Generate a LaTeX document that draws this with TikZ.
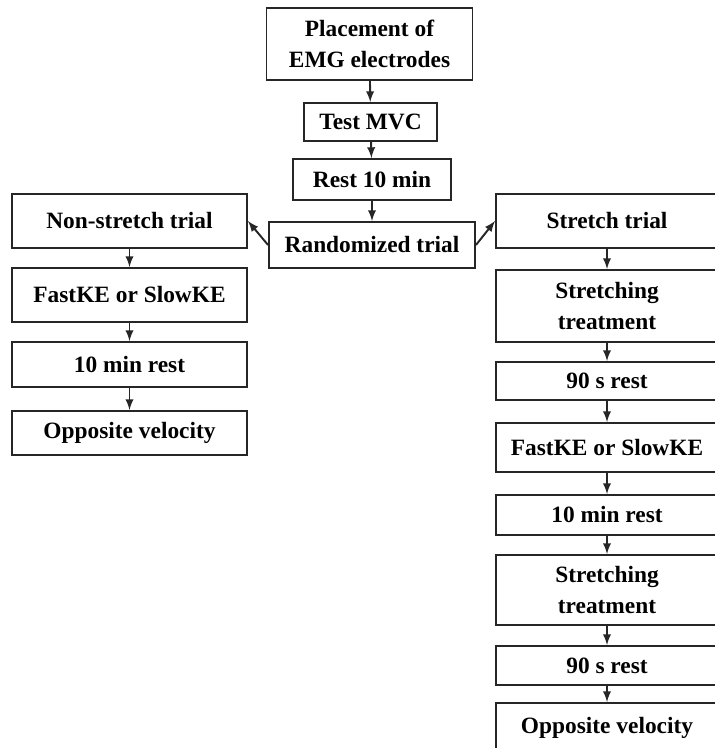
\documentclass[tikz,border=0pt]{standalone}
\usepackage{fontspec}
\setmainfont{Liberation Serif}

\begin{document}
\begin{tikzpicture}[
  box/.style={draw=black!85, line width=1.1pt, align=center, inner sep=0pt,
    font=\bfseries\fontsize{13.3}{17.5}\selectfont},
  lbox/.style={box, minimum width=4.70cm},
  rbox/.style={box, minimum width=4.44cm},
  flow/.style={-latex, line width=1.1pt, draw=black!85}]
\useasboundingbox (0,0) rectangle (14.28,-14.96);
\node[box, minimum width=4.12cm, minimum height=1.44cm] (place) at (7.39,-0.88) {Placement of\\EMG electrodes};
\node[box, minimum width=2.66cm, minimum height=0.76cm] (mvc) at (7.41,-2.44) {Test MVC};
\node[box, minimum width=3.16cm, minimum height=0.82cm] (rest) at (7.44,-3.59) {Rest 10 min};
\node[box, minimum width=4.12cm, minimum height=0.92cm] (rand) at (7.44,-4.90) {Randomized trial};
\node[lbox, minimum height=1.08cm] (nons) at (2.59,-4.42) {Non-stretch trial};
\node[lbox, minimum height=1.08cm] (fastA) at (2.59,-5.90) {FastKE or SlowKE};
\node[lbox, minimum height=0.90cm] (restA) at (2.59,-7.29) {10 min rest};
\node[lbox, minimum height=0.88cm] (oppA) at (2.59,-8.66) {Opposite velocity};
\node[rbox, minimum height=1.08cm] (str) at (12.14,-4.42) {Stretch trial};
\node[rbox, minimum height=1.44cm] (treatA) at (12.14,-6.12) {Stretching\\treatment};
\node[rbox, minimum height=0.76cm] (secA) at (12.14,-7.62) {90 s rest};
\node[rbox, minimum height=0.98cm] (fastB) at (12.14,-8.95) {FastKE or SlowKE};
\node[rbox, minimum height=0.80cm] (restB) at (12.14,-10.30) {10 min rest};
\node[rbox, minimum height=1.40cm] (treatB) at (12.14,-11.80) {Stretching\\treatment};
\node[rbox, minimum height=0.78cm] (secB) at (12.14,-13.31) {90 s rest};
\node[rbox, minimum height=0.98cm] (oppB) at (12.14,-14.55) {Opposite velocity};
\draw[flow] (place) -- (mvc);
\draw[flow] (mvc) -- (rest);
\draw[flow] (rest) -- (rand);
\draw[flow] (rand.west) -- (nons.east);
\draw[flow] (rand.east) -- (str.west);
\draw[flow] (nons) -- (fastA);
\draw[flow] (fastA) -- (restA);
\draw[flow] (restA) -- (oppA);
\draw[flow] (str) -- (treatA);
\draw[flow] (treatA) -- (secA);
\draw[flow] (secA) -- (fastB);
\draw[flow] (fastB) -- (restB);
\draw[flow] (restB) -- (treatB);
\draw[flow] (treatB) -- (secB);
\draw[flow] (secB) -- (oppB);
\end{tikzpicture}
\end{document}
